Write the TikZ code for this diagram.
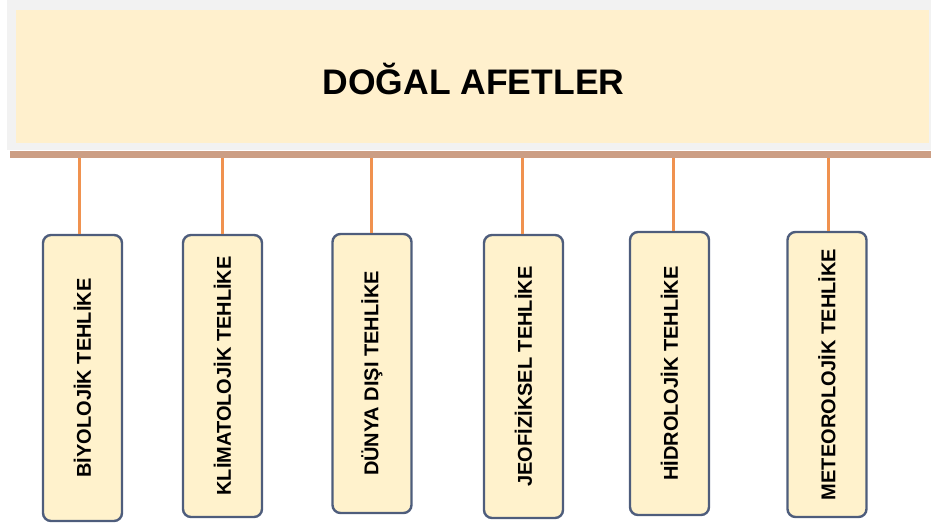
\documentclass[tikz,border=0pt]{standalone}
\usepackage{fontspec}
\usepackage{graphicx}
\setmainfont{Liberation Sans}
\definecolor{bannerfill}{HTML}{FFF0CD}
\definecolor{boxfill}{HTML}{FFF2CC}
\definecolor{graybord}{HTML}{F2F2F2}
\definecolor{bandcol}{HTML}{CC9E84}
\definecolor{linkcol}{HTML}{F0924F}
\definecolor{boxline}{HTML}{4E5D7C}
\tikzset{
  hazard/.style={draw=boxline, line width=2.4pt, fill=boxfill, rounded corners=8pt,
    minimum width=79pt, inner sep=0pt, font=\bfseries\fontsize{20}{24}\selectfont},
  link/.style={draw=linkcol, line width=3pt}
}
\newcommand{\hz}[1]{\rotatebox{90}{#1}}
\begin{document}
\begin{tikzpicture}[x=1pt,y=-1pt]
\useasboundingbox (0,0) rectangle (931,524);
\fill[graybord] (7,0) rectangle (931,150);
\node[fill=bannerfill, minimum width=913pt, minimum height=133pt, inner sep=0pt] (banner) at (472.5,76.5) {};
\node[anchor=base, font=\bfseries\fontsize{35.5}{40}\selectfont, inner sep=0pt] (title) at (473.5,95) {DOĞAL AFETLER};
\node[fill=bandcol, minimum width=921pt, minimum height=7pt, inner sep=0pt] (band) at (470.5,154.5) {};
\node[hazard, minimum height=286pt] (b1) at (82.5,378) {\hz{BİYOLOJİK TEHLİKE}};
\node[hazard, minimum height=282pt] (b2) at (222.5,376) {\hz{KLİMATOLOJİK TEHLİKE}};
\node[hazard, minimum height=279pt] (b3) at (372,373.5) {\hz{DÜNYA DIŞI TEHLİKE}};
\node[hazard, minimum height=283pt] (b4) at (523.5,376.5) {\hz{JEOFİZİKSEL TEHLİKE}};
\node[hazard, minimum height=283pt] (b5) at (669.5,373.5) {\hz{HİDROLOJİK TEHLİKE}};
\node[hazard, minimum height=285pt] (b6) at (827,374.5) {\hz{METEOROLOJİK TEHLİKE}};
\foreach \b/\dx in {b1/-3.5,b2/-0.5,b3/-1,b4/-1.5,b5/3.5,b6/1}{
  \draw[link] ([xshift=\dx pt]band.south -| \b.north) -- ([xshift=\dx pt]\b.north);
}
\end{tikzpicture}
\end{document}
